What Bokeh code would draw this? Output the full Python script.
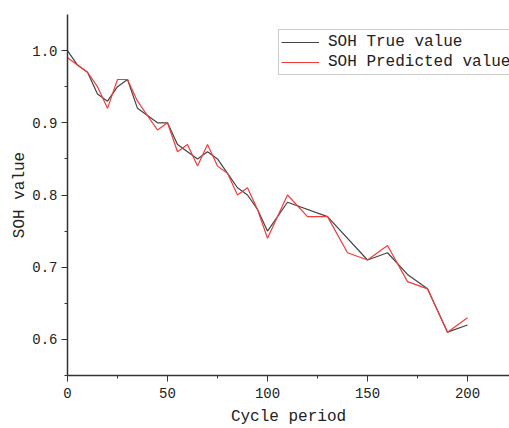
from bokeh.plotting import figure
from bokeh.models import Range1d, Legend, LegendItem, FixedTicker
from bokeh.embed import file_html
from bokeh.resources import INLINE

# Data
x_true = [0, 5, 10, 15, 20, 25, 30, 35, 40, 45, 50, 55, 60, 65, 70, 75, 80, 85, 90, 95,
          100, 110, 130, 150, 160, 170, 180, 190, 200]
soh_true = [1.00, 0.98, 0.97, 0.94, 0.93, 0.95, 0.96, 0.92, 0.91, 0.90, 0.90, 0.87, 0.86, 0.85,
            0.86, 0.85, 0.83, 0.81, 0.80, 0.78, 0.75, 0.79, 0.77, 0.71, 0.72, 0.69, 0.67, 0.61, 0.62]
x_pred = [0, 5, 10, 15, 20, 25, 30, 35, 40, 45, 50, 55, 60, 65, 70, 75, 80, 85, 90, 95,
          100, 110, 120, 130, 140, 150, 160, 170, 180, 190, 200]
soh_pred = [0.99, 0.98, 0.97, 0.95, 0.92, 0.96, 0.96, 0.93, 0.91, 0.89, 0.90, 0.86, 0.87, 0.84,
            0.87, 0.84, 0.83, 0.80, 0.81, 0.78, 0.74, 0.80, 0.77, 0.77, 0.72, 0.71, 0.73, 0.68,
            0.67, 0.61, 0.63]
x_ticks = [0, 50, 100, 150, 200]
y_ticks = [0.6, 0.7, 0.8, 0.9, 1.0]
labels = ["SOH True value", "SOH Predicted value"]

FONT = "Liberation Mono"
AX = "#333333"

p = figure(width=509, height=428, output_backend="svg", toolbar_location=None,
           x_range=Range1d(0, 221), y_range=Range1d(0.55, 1.05),
           min_border_left=67, min_border_right=0, min_border_top=14, min_border_bottom=52)
p.outline_line_color = None
p.grid.visible = False
p.background_fill_color = "white"
p.border_fill_color = "white"

r1 = p.line(x_true, soh_true, line_color="#444444", line_width=1.2)
r2 = p.line(x_pred, soh_pred, line_color="#f03c3c", line_width=1.2)

p.xaxis.ticker = FixedTicker(ticks=x_ticks, minor_ticks=[25, 75, 125, 175])
p.yaxis.ticker = FixedTicker(ticks=y_ticks, minor_ticks=[0.55, 0.65, 0.75, 0.85, 0.95])
p.yaxis.major_label_overrides = {v: f"{v:.1f}" for v in y_ticks}
p.xaxis.axis_label = "Cycle period"
p.yaxis.axis_label = "SOH value"
for ax in (p.xaxis[0], p.yaxis[0]):
    ax.axis_line_color = AX
    ax.axis_line_width = 1.5
    ax.major_tick_line_color = AX
    ax.minor_tick_line_color = AX
    ax.major_tick_out = 6
    ax.major_tick_in = 0
    ax.minor_tick_out = 3
    ax.minor_tick_in = 0
    ax.major_label_text_font = FONT
    ax.major_label_text_font_size = "14px"
    ax.major_label_text_color = "#222222"
    ax.axis_label_text_font = FONT
    ax.axis_label_text_font_size = "16px"
    ax.axis_label_text_font_style = "normal"
    ax.axis_label_text_color = "#222222"
p.xaxis.major_label_standoff = 6
p.yaxis.major_label_standoff = 4
p.xaxis.axis_label_standoff = 7
p.yaxis.axis_label_standoff = 0

legend = Legend(items=[LegendItem(label=labels[0], renderers=[r1]),
                       LegendItem(label=labels[1], renderers=[r2])],
                location=(211, 300))
legend.label_text_font = FONT
legend.label_text_font_size = "16px"
legend.label_text_color = "#222222"
legend.glyph_width = 38
legend.glyph_height = 20
legend.label_height = 20
legend.spacing = 0
legend.padding = 2
legend.margin = 0
legend.label_standoff = 9
legend.border_line_color = "#999999"
legend.border_line_width = 1
legend.background_fill_alpha = 1
p.add_layout(legend, "center")

open("out.html", "w").write(file_html(p, INLINE))
